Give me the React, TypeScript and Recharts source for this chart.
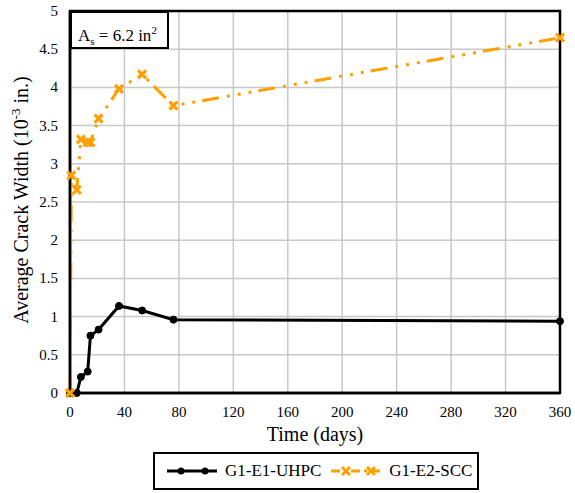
import { LineChart, Line, XAxis, YAxis, CartesianGrid, Legend, ReferenceArea, Label } from 'recharts';

const days = [0, 1, 5, 8, 13, 15, 21, 36, 53, 76, 360];
const uhpc = [0, null, 0, 0.21, 0.28, 0.75, 0.83, 1.14, 1.08, 0.96, 0.94];
const scc = [0, 2.85, 2.66, 3.32, 3.28, 3.28, 3.59, 3.98, 4.17, 3.76, 4.65];
const xTicks = [0, 40, 80, 120, 160, 200, 240, 280, 320, 360];
const yTicks = [0, 0.5, 1, 1.5, 2, 2.5, 3, 3.5, 4, 4.5, 5];

const ORANGE = '#ffa000';
const FONT = '"Liberation Serif", "Times New Roman", serif';
const SCC_DASH = '17 8 3 8 3 8 3 7';

const data = days.map((d, i) => ({ day: d, uhpc: uhpc[i], scc: scc[i] }));

// x-shaped marker for the SCC series
const CrossDot = (props: any) => {
    const { cx, cy, index } = props;
    if (cx == null || cy == null) return <g key={index} />;
    const s = 4;
    return (
        <path
            key={index}
            d={`M${cx - s},${cy - s}L${cx + s},${cy + s}M${cx + s},${cy - s}L${cx - s},${cy + s}`}
            stroke={ORANGE}
            strokeWidth={3.2}
            fill="none"
        />
    );
};

const TickText = ({ x, y, payload, vertical }: any) => (
    <text
        x={x}
        y={y}
        dy={vertical ? 5 : 12}
        textAnchor={vertical ? 'end' : 'middle'}
        fontFamily={FONT}
        fontSize={15}
        fill="#000"
    >
        {payload.value}
    </text>
);

const XTitle = ({ viewBox }: any) => (
    <text
        x={viewBox.x + viewBox.width / 2}
        y={441}
        textAnchor="middle"
        fontFamily={FONT}
        fontSize={20}
        fill="#000"
    >
        Time (days)
    </text>
);

const YTitle = ({ viewBox }: any) => {
    const cx = 28;
    const cy = viewBox.y + viewBox.height / 2 - 2;
    return (
        <text
            x={cx}
            y={cy}
            transform={`rotate(-90 ${cx} ${cy})`}
            textAnchor="middle"
            fontFamily={FONT}
            fontSize={20}
            fill="#000"
        >
            Average Crack Width (10
            <tspan dy={-8} fontSize={13}>-3</tspan>
            <tspan dy={8}> in.)</tspan>
        </text>
    );
};

const LegendBox = () => (
    <div
        style={{
            border: '2px solid #000',
            boxSizing: 'border-box',
            width: '100%',
            height: '100%',
            display: 'flex',
            alignItems: 'center',
            fontFamily: FONT,
            fontSize: 17,
            color: '#000',
            background: '#fff',
            whiteSpace: 'nowrap',
        }}
    >
        <svg width={50} height={12} style={{ marginLeft: 12, flex: 'none' }}>
            <line x1={0} y1={6} x2={50} y2={6} stroke="#000" strokeWidth={3} />
            <circle cx={14} cy={6} r={3.5} fill="#000" />
            <circle cx={38} cy={6} r={3.5} fill="#000" />
        </svg>
        <span style={{ marginLeft: 8 }}>G1-E1-UHPC</span>
        <svg width={50} height={12} style={{ marginLeft: 10, flex: 'none' }}>
            <line x1={0} y1={6} x2={50} y2={6} stroke={ORANGE} strokeWidth={3} strokeDasharray="9 4 3 4" />
            <path d="M11,2L19,10M19,2L11,10" stroke={ORANGE} strokeWidth={3} />
            <path d="M36,2L44,10M44,2L36,10" stroke={ORANGE} strokeWidth={3} />
        </svg>
        <span style={{ marginLeft: 8 }}>G1-E2-SCC</span>
    </div>
);

export default function App() {
    return (
        <div style={{ position: 'absolute', left: 0, top: 0, width: 575, height: 493, background: '#fff', fontFamily: FONT }}>
            <LineChart
                width={575}
                height={493}
                data={data}
                margin={{ top: 11, right: 15, bottom: 70, left: 10 }}
                style={{ fontFamily: FONT }}
            >
                <CartesianGrid stroke="#c8c8c8" strokeWidth={1.5} horizontalValues={yTicks} verticalValues={xTicks} />
                <XAxis
                    type="number"
                    dataKey="day"
                    domain={[0, 360]}
                    ticks={xTicks}
                    height={30}
                    interval={0}
                    tickLine={false}
                    axisLine={{ stroke: '#000', strokeWidth: 2.5 }}
                    tick={<TickText />}
                    tickMargin={6}
                >
                    <Label content={<XTitle />} />
                </XAxis>
                <YAxis
                    type="number"
                    domain={[0, 5]}
                    ticks={yTicks}
                    width={60}
                    interval={0}
                    tickLine={false}
                    axisLine={{ stroke: '#000', strokeWidth: 2.5 }}
                    tick={<TickText vertical />}
                    tickMargin={6}
                >
                    <Label content={<YTitle />} />
                </YAxis>
                <ReferenceArea x1={0} x2={360} y1={0} y2={5} fill="none" stroke="#000" strokeWidth={2.5} />
                <Line
                    dataKey="uhpc"
                    stroke="#000"
                    strokeWidth={3}
                    connectNulls
                    dot={{ r: 3.5, fill: '#000', stroke: '#000', strokeWidth: 1 }}
                    isAnimationActive={false}
                    type="linear"
                />
                <Line
                    dataKey="scc"
                    stroke={ORANGE}
                    strokeWidth={3}
                    strokeDasharray={SCC_DASH}
                    dot={<CrossDot />}
                    isAnimationActive={false}
                    type="linear"
                />
                <Legend
                    layout="vertical"
                    align="center"
                    verticalAlign="middle"
                    content={<LegendBox />}
                    wrapperStyle={{ left: 153, top: 452, width: 326, height: 38 }}
                />
            </LineChart>
            <div
                style={{
                    position: 'absolute',
                    left: 70,
                    top: 11,
                    width: 99,
                    height: 38,
                    boxSizing: 'border-box',
                    border: '2px solid #000',
                    background: '#fff',
                    fontFamily: FONT,
                    fontSize: 17,
                    lineHeight: '34px',
                    paddingLeft: 6,
                    whiteSpace: 'nowrap',
                }}
            >
                A<sub style={{ fontSize: 11 }}>s</sub> = 6.2 in<sup style={{ fontSize: 11 }}>2</sup>
            </div>
        </div>
    );
}
